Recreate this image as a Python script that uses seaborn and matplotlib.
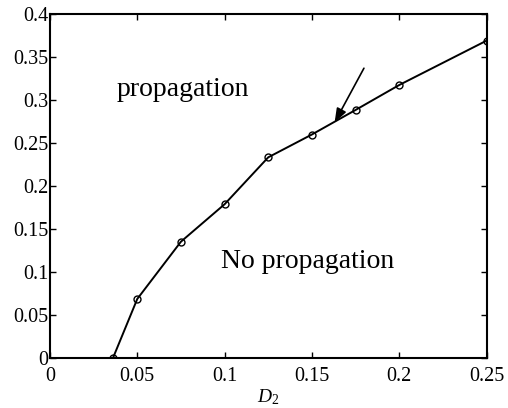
import matplotlib
matplotlib.use("Agg")
import matplotlib.pyplot as plt
import seaborn as sns
import pandas as pd

D2 = [0.036, 0.05, 0.075, 0.10, 0.125, 0.15, 0.175, 0.20, 0.25]
threshold = [0.0, 0.069, 0.1355, 0.179, 0.2335, 0.26, 0.2885, 0.3175, 0.369]
xticks = [0, 0.05, 0.1, 0.15, 0.2, 0.25]
xticklabels = ["0", "0.05", "0.1", "0.15", "0.2", "0.25"]
yticks = [0, 0.05, 0.1, 0.15, 0.2, 0.25, 0.3, 0.35, 0.4]
yticklabels = ["0", "0.05", "0.1", "0.15", "0.2", "0.25", "0.3", "0.35", "0.4"]

sns.set_style("ticks")
plt.rcParams["font.family"] = ["Liberation Serif", "DejaVu Serif"]
plt.rcParams["mathtext.fontset"] = "custom"
plt.rcParams["mathtext.it"] = "Liberation Serif:italic"
plt.rcParams["mathtext.rm"] = "Liberation Serif"
plt.rcParams["text.color"] = "black"
plt.rcParams["axes.labelcolor"] = "black"
plt.rcParams["xtick.color"] = "black"
plt.rcParams["ytick.color"] = "black"

df = pd.DataFrame({"D2": D2, "thr": threshold})

fig = plt.figure(figsize=(5.08, 4.08), dpi=100)
ax = fig.add_axes([0.0984, 0.1218, 0.8593, 0.8439])

sns.lineplot(data=df, x="D2", y="thr", ax=ax, color="black", linewidth=1.4,
             marker="o", markersize=5, markerfacecolor="none",
             markeredgecolor="black", markeredgewidth=1.0)

ax.set_xlim(0, 0.25)
ax.set_ylim(0, 0.4)
ax.set_xticks(xticks)
ax.set_xticklabels(xticklabels)
ax.set_yticks(yticks)
ax.set_yticklabels(yticklabels)
ax.tick_params(direction="in", top=True, right=True, labelsize=14.5,
               length=4, width=1, colors="black")
ax.tick_params(axis="y", pad=1)
ax.tick_params(axis="x", pad=6)
for s in ax.spines.values():
    s.set_linewidth(1.5)
    s.set_color("black")
ax.set_xlabel("$D_2$", fontsize=14, labelpad=1)
ax.set_ylabel("")

ax.text(0.038, 0.312, "propagation", fontsize=20, va="center", ha="left")
ax.text(0.098, 0.112, "No propagation", fontsize=20, va="center", ha="left")

ax.annotate("", xy=(0.163, 0.274), xytext=(0.1798, 0.337),
            arrowprops=dict(arrowstyle="-|>,head_length=0.6,head_width=0.22",
                            color="black", lw=1.2,
                            mutation_scale=14, shrinkA=0, shrinkB=0))

fig.savefig("out.png", dpi=100)
